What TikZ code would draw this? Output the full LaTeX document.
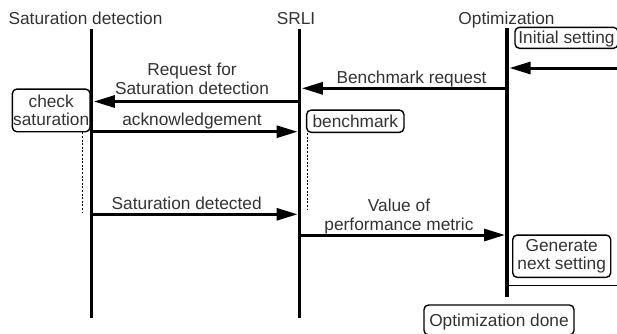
\documentclass[tikz,border=0pt]{standalone}
\usepackage{fontspec}
\setmainfont{Liberation Sans}
\usetikzlibrary{arrows.meta}
\definecolor{txt}{HTML}{333333}
\tikzset{
  lbl/.style={text=txt, font=\fontsize{17.3}{19}\selectfont, inner sep=0pt, align=center, anchor=base},
  life/.style={line width=3.6pt},
  msg/.style={line width=3pt, -{Triangle[length=21pt,width=12pt]}},
  note/.style={draw, line width=1.4pt, rounded corners=4.5pt, text=txt,
    font=\fontsize{17.3}{18}\selectfont, align=center, inner sep=0pt},
  oneline/.style={text height=12pt, text depth=0pt},
  guide/.style={line width=0.7pt, dash pattern=on 2pt off 1.6pt},
  ret/.style={line width=1.4pt}
}
\begin{document}
\begin{tikzpicture}[x=1pt,y=-1pt]
\useasboundingbox (0,0) rectangle (617,333);

% lifeline headers
\node[lbl] (sd)   at (85.5,24.5) {Saturation detection};
\node[lbl] (srli) at (296,24.5)  {SRLI};
\node[lbl] (opt)  at (506.5,24.5) {Optimization};

% lifelines
\coordinate (sdtop) at (91.5,29);  \coordinate (sdbot) at (91.5,318);
\coordinate (srtop) at (299.5,29); \coordinate (srbot) at (299.5,318);
\coordinate (optop) at (507,28);   \coordinate (opbot) at (507,297);
\draw[life] (sdtop) -- (sdbot);
\draw[life] (srtop) -- (srbot);
\draw[life] (optop) -- (opbot);

% activity notes
\node[note, oneline, minimum width=103pt, minimum height=21pt] (init) at (566.5,37.8) {Initial setting};
\node[note, oneline, minimum width=97.3pt, minimum height=22.3pt] (bench) at (355.3,121.2) {benchmark};
\node[note, minimum width=77.7pt, minimum height=42.7pt] (check) at (51.2,110.4) {check\\saturation};
\node[note, minimum width=98pt, minimum height=42.3pt] (gen) at (561.7,256.2) {Generate\\next setting};
\node[note, oneline, minimum width=150pt, minimum height=30pt] (done) at (499,320) {Optimization done};

% dashed guides below the notes
\coordinate (checkg) at (82.3,211.7);
\coordinate (benchg) at (307.7,210);
\draw[guide] (check.south -| checkg) -- (checkg);
\draw[guide] (bench.south -| benchg) -- (benchg);

% messages
\coordinate (in0)  at (620,68);   \coordinate (in1)  at (509.5,68);
\coordinate (br0)  at (507,88.3); \coordinate (br1)  at (301.8,88.3);
\coordinate (rq0)  at (299.5,101.5); \coordinate (rq1) at (93.8,101.5);
\coordinate (ak0)  at (91.5,131.7); \coordinate (ak1) at (297.5,131.7);
\coordinate (sdd0) at (91.5,214.3); \coordinate (sdd1) at (297.5,214.3);
\coordinate (vp0)  at (299.5,235); \coordinate (vp1) at (505,235);
\draw[msg] (in0) -- (in1);
\draw[msg] (br0) -- (br1);
\draw[msg] (rq0) -- (rq1);
\draw[msg] (ak0) -- (ak1);
\draw[msg] (sdd0) -- (sdd1);
\draw[msg] (vp0) -- (vp1);

% loop-back line from the optimizer
\coordinate (rt0) at (507,285.5); \coordinate (rt1) at (620,285.5);
\draw[ret] (rt0) -- (rt1);

% message labels (two-line labels sit on the baseline of their last line)
\node[lbl] (lbr) at (411.5,83.4) {Benchmark request};
\node[lbl] (lrq) at (192,94.5) {Request for\\Saturation detection};
\node[lbl] (lak) at (192,125.5) {acknowledgement};
\node[lbl] (lsd) at (186.7,209.5) {Saturation detected};
\node[lbl] (lvp) at (399,230) {Value of\\performance metric};
\end{tikzpicture}
\end{document}
